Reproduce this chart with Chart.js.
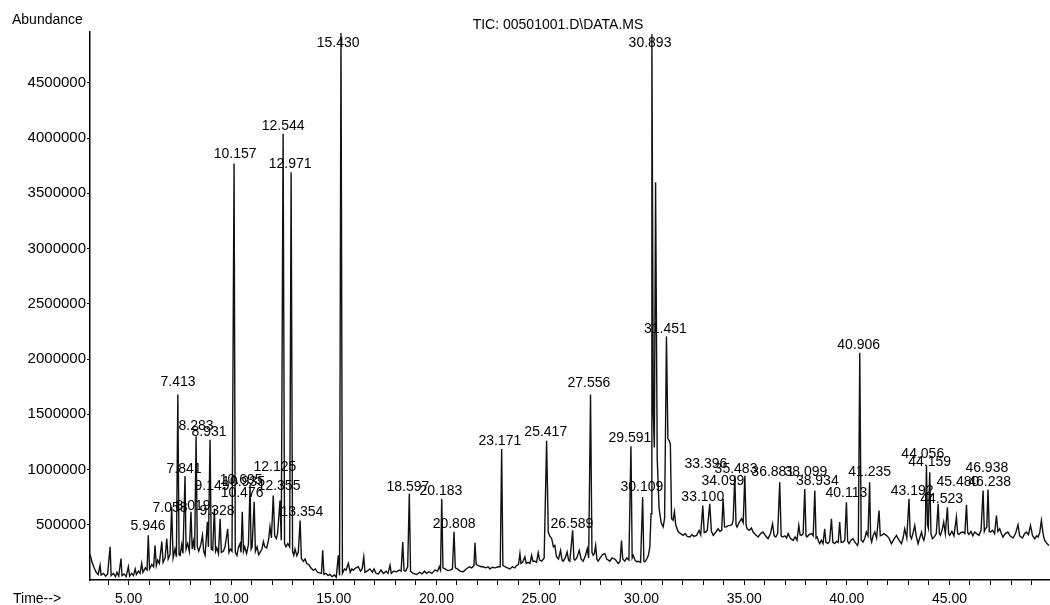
<!DOCTYPE html>
<html>
<head>
<meta charset="utf-8">
<script src="https://cdn.jsdelivr.net/npm/chart.js@4.4.1/dist/chart.umd.min.js"></script>
<style>
html,body{margin:0;padding:0;background:#fff;}
#wrap{width:1050px;height:605px;position:relative;}
</style>
</head>
<body>
<div id="wrap"><canvas id="c" width="1050" height="605"></canvas></div>
<script>
// ---- data ----
const chartTitle = "TIC: 00501001.D\\DATA.MS";
const yAxisTitle = "Abundance";
const xAxisTitle = "Time-->";

const retentionTimes = [
3.13,3.22,3.32,3.42,3.52,3.61,3.66,3.78,3.88,3.98,4.10,4.15,4.26,4.36,4.43,4.52,4.63,4.68,4.78,4.88,
4.99,5.05,5.15,5.24,5.32,5.38,5.48,5.56,5.64,5.70,5.82,5.90,5.96,6.02,6.13,6.22,6.29,6.35,6.42,6.50,
6.62,6.68,6.78,6.86,6.93,7.02,7.10,7.17,7.26,7.33,7.40,7.46,7.51,7.59,7.65,7.75,7.80,7.88,7.96,8.04,
8.10,8.16,8.22,8.29,8.35,8.42,8.52,8.60,8.66,8.73,8.84,8.89,8.97,9.03,9.10,9.18,9.24,9.30,9.38,9.46,
9.52,9.62,9.70,9.83,9.89,9.96,10.04,10.14,10.20,10.28,10.36,10.43,10.48,10.54,10.60,10.66,10.75,10.84,10.92,10.97,
11.02,11.12,11.18,11.26,11.34,11.41,11.50,11.57,11.64,11.73,11.82,11.89,11.96,12.05,12.12,12.20,12.26,12.38,12.44,12.53,
12.60,12.67,12.76,12.85,12.92,12.99,13.05,13.11,13.20,13.27,13.36,13.42,13.52,13.60,13.68,13.78,13.88,14.00,14.10,14.20,
14.30,14.40,14.46,14.52,14.62,14.72,14.81,14.92,15.03,15.12,15.22,15.28,15.35,15.42,15.52,15.60,15.71,15.80,15.88,15.95,
16.08,16.19,16.30,16.38,16.46,16.52,16.62,16.76,16.88,16.96,17.06,17.17,17.30,17.42,17.55,17.64,17.74,17.80,17.92,18.06,
18.18,18.28,18.36,18.42,18.50,18.60,18.68,18.74,18.86,19.04,19.18,19.30,19.42,19.52,19.64,19.78,19.93,20.06,20.14,20.20,
20.26,20.32,20.42,20.55,20.66,20.78,20.86,20.92,21.02,21.15,21.31,21.45,21.60,21.72,21.83,21.88,21.94,22.05,22.18,22.28,
22.40,22.52,22.61,22.72,22.86,23.01,23.11,23.18,23.24,23.34,23.46,23.58,23.70,23.82,23.91,24.00,24.07,24.12,24.20,24.31,
24.38,24.47,24.56,24.64,24.70,24.80,24.88,24.96,25.03,25.13,25.25,25.37,25.45,25.52,25.62,25.70,25.77,25.85,25.95,26.05,
26.12,26.18,26.28,26.37,26.44,26.50,26.64,26.70,26.75,26.84,26.96,27.05,27.15,27.26,27.35,27.42,27.51,27.58,27.64,27.70,
27.76,27.82,27.88,27.98,28.10,28.21,28.30,28.38,28.45,28.56,28.62,28.70,28.78,28.86,28.95,29.02,29.08,29.18,29.28,29.38,
29.48,29.54,29.59,29.68,29.75,29.83,29.95,30.05,30.11,30.16,30.25,30.33,30.40,30.46,30.50,30.57,30.62,30.68,30.76,30.85,
30.95,31.05,31.12,31.21,31.28,31.35,31.40,31.46,31.53,31.60,31.66,31.78,31.90,32.02,32.12,32.22,32.35,32.45,32.55,32.68,
32.80,32.88,32.98,33.05,33.13,33.20,33.32,33.40,33.49,33.60,33.73,33.82,33.90,33.97,34.04,34.10,34.20,34.30,34.40,34.46,
34.54,34.60,34.65,34.75,34.87,34.95,35.03,35.09,35.14,35.25,35.35,35.43,35.55,35.68,35.80,35.92,36.04,36.16,36.28,36.38,
36.46,36.54,36.63,36.73,36.80,36.87,36.98,37.06,37.14,37.24,37.38,37.48,37.57,37.66,37.72,37.79,37.87,37.95,38.01,38.06,
38.16,38.28,38.36,38.44,38.50,38.55,38.62,38.68,38.76,38.84,38.92,38.98,39.08,39.16,39.25,39.32,39.41,39.50,39.58,39.65,
39.72,39.82,39.90,39.98,40.04,40.11,40.20,40.30,40.40,40.52,40.56,40.63,40.70,40.79,40.88,40.95,41.03,41.11,41.16,41.21,
41.28,41.36,41.45,41.57,41.63,41.69,41.80,41.93,42.05,42.17,42.30,42.42,42.54,42.66,42.74,42.82,42.92,43.03,43.09,43.15,
43.22,43.31,43.38,43.47,43.55,43.64,43.70,43.75,43.82,43.88,43.93,43.97,44.04,44.10,44.17,44.26,44.36,44.45,44.51,44.56,
44.64,44.72,44.80,44.90,44.96,45.01,45.12,45.22,45.34,45.40,45.47,45.56,45.66,45.75,45.83,45.89,45.95,46.05,46.14,46.23,
46.32,46.44,46.54,46.64,46.70,46.75,46.82,46.88,46.94,47.00,47.10,47.20,47.29,47.36,47.45,47.53,47.61,47.72,47.85,47.95,
48.10,48.22,48.34,48.42,48.56,48.66,48.75,48.85,48.95,49.05,49.16,49.25,49.32,49.40,49.48,49.56,49.64,49.75,49.85
];

const abundance = [
230000,160000,110000,70000,50000,133000,45000,60000,35000,55000,300000,40000,60000,30000,70000,35000,194000,40000,55000,30000,
120000,35000,60000,40000,100000,50000,80000,60000,150000,70000,110000,90000,404000,100000,140000,120000,313000,130000,180000,150000,
347000,160000,200000,374000,190000,230000,662000,200000,280000,210000,1680000,230000,223000,320000,240000,941000,280000,330000,260000,617000,
280000,350000,270000,1300000,300000,260000,320000,404000,260000,223000,527000,300000,1270000,280000,270000,644000,260000,290000,240000,554000,
250000,260000,300000,464000,250000,280000,260000,3770000,250000,223000,300000,329000,250000,617000,260000,300000,240000,320000,860000,280000,
300000,707000,260000,300000,230000,250000,280000,347000,300000,290000,360000,482000,380000,764000,400000,374000,420000,719000,360000,4040000,
330000,302000,330000,300000,3690000,260000,223000,280000,220000,250000,539000,194000,170000,190000,149000,140000,110000,88000,100000,70000,
65000,60000,268000,50000,60000,40000,50000,30000,45000,25000,223000,40000,4950000,60000,100000,90000,150000,70000,100000,88000,
110000,120000,80000,100000,209000,70000,80000,100000,70000,100000,60000,55000,90000,60000,80000,60000,133000,60000,80000,75000,
90000,80000,344000,85000,80000,120000,780000,80000,60000,50000,70000,55000,80000,60000,75000,60000,90000,80000,120000,90000,
734000,110000,100000,85000,90000,100000,437000,110000,100000,80000,75000,100000,120000,110000,130000,338000,140000,130000,120000,120000,
110000,120000,100000,115000,110000,120000,120000,1185000,130000,120000,110000,100000,120000,110000,133000,140000,239000,150000,160000,209000,
150000,160000,150000,223000,170000,170000,160000,248000,180000,170000,200000,1260000,434000,400000,374000,300000,313000,210000,190000,268000,
180000,170000,200000,254000,180000,170000,449000,190000,180000,200000,268000,190000,170000,220000,284000,200000,1680000,250000,223000,240000,
313000,190000,170000,200000,230000,239000,190000,180000,170000,200000,194000,190000,170000,149000,170000,358000,190000,170000,200000,180000,
1210000,200000,223000,180000,165000,170000,160000,752000,170000,164000,190000,223000,300000,600000,4940000,1500000,1200000,3600000,1100000,650000,
520000,480000,560000,2205000,1280000,1260000,1230000,554000,540000,617000,500000,437000,420000,404000,420000,395000,389000,410000,395000,404000,
449000,410000,674000,430000,434000,450000,689000,440000,404000,430000,464000,440000,450000,734000,480000,479000,490000,494000,500000,540000,
944000,500000,479000,520000,554000,520000,944000,500000,464000,450000,470000,434000,410000,389000,420000,434000,400000,374000,420000,509000,
400000,389000,420000,885000,400000,389000,400000,380000,420000,380000,359000,390000,360000,494000,410000,404000,420000,824000,400000,389000,
410000,420000,400000,809000,380000,389000,350000,329000,360000,330000,464000,340000,329000,350000,554000,340000,329000,350000,340000,524000,
340000,344000,360000,704000,350000,329000,360000,374000,340000,313000,340000,2056000,360000,344000,380000,434000,400000,885000,380000,344000,
400000,434000,380000,629000,400000,404000,420000,404000,380000,329000,370000,404000,360000,329000,380000,464000,380000,734000,400000,374000,
420000,494000,400000,329000,380000,434000,380000,359000,420000,1034000,500000,470000,975000,420000,374000,390000,420000,689000,420000,404000,
450000,524000,420000,659000,420000,404000,440000,400000,569000,420000,413000,430000,434000,420000,680000,430000,413000,440000,400000,434000,
420000,404000,450000,809000,440000,464000,480000,818000,440000,434000,450000,420000,584000,440000,464000,420000,389000,420000,434000,400000,
380000,420000,500000,400000,380000,420000,434000,410000,494000,400000,374000,400000,389000,430000,539000,420000,359000,330000,313000
];

// peak annotations: text and where the text sits (time, abundance)
const peakLabels = ["5.946","7.058","7.413","7.841","8.019","8.283","8.931","9.149","9.328","10.157",
  "10.476","10.695","10.935","12.125","12.355","12.544","12.971","13.354","15.430","18.597",
  "20.183","20.808","23.171","25.417","26.589","27.556","29.591","30.109","30.893","31.451",
  "33.100","33.396","34.099","35.483","36.881","38.099","38.934","40.113","40.906","41.235",
  "43.192","44.056","44.159","44.523","45.480","46.238","46.938"];
const labelTimes = [5.95,7.02,7.41,7.70,8.14,8.29,8.92,9.07,9.31,10.19,
  10.53,10.49,10.60,12.13,12.33,12.53,12.87,13.45,15.21,18.61,
  20.22,20.86,23.09,25.33,26.60,27.43,29.43,30.01,30.41,31.16,
  32.98,33.13,33.96,34.60,36.39,38.01,38.56,39.98,40.58,41.11,
  43.18,43.70,44.04,44.62,45.41,46.96,46.82];
const labelAbund = [491000,653000,1788000,1005000,671000,1392000,1338000,851000,626000,3851000,
  788000,905000,888000,1023000,851000,4112000,3761000,617000,4860000,842000,
  806000,509000,1257000,1338000,509000,1779000,1288000,842000,4860000,2275000,
  752000,1050000,896000,1005000,977000,977000,896000,788000,2130000,977000,
  806000,1140000,1068000,734000,887000,887000,1014000];

const xMinorTicks = [4,5,6,7,8,9,10,11,12,13,14,15,16,17,18,19,20,21,22,23,24,25,26,27,28,29,30,31,32,33,34,35,36,37,38,39,40,41,42,43,44,45,46,47,48,49];
const xLabelTicks = [5,10,15,20,25,30,35,40,45];
const yTicks = [500000,1000000,1500000,2000000,2500000,3000000,3500000,4000000,4500000];

const FONT = '"Liberation Sans", Arial, sans-serif';

const points = retentionTimes.map((t, i) => ({x: t, y: abundance[i]}));

const annotate = {
  id: 'annotate',
  afterDatasetsDraw(chart) {
    const ctx = chart.ctx;
    const xs = chart.scales.x, ys = chart.scales.y;
    ctx.save();
    ctx.fillStyle = '#000';
    ctx.font = '14px ' + FONT;
    ctx.textAlign = 'center';
    ctx.textBaseline = 'middle';
    peakLabels.forEach((txt, i) => {
      ctx.fillText(txt, xs.getPixelForValue(labelTimes[i]), ys.getPixelForValue(labelAbund[i]));
    });
    ctx.restore();
  },
  afterDraw(chart) {
    const ctx = chart.ctx;
    ctx.save();
    ctx.fillStyle = '#000';
    ctx.textBaseline = 'middle';
    ctx.font = '14px ' + FONT;
    ctx.textAlign = 'left';
    ctx.fillText(yAxisTitle, 12, 20);
    ctx.fillText(xAxisTitle, 13, 599);
    ctx.textAlign = 'center';
    ctx.fillText(chartTitle, 558, 25);
    ctx.restore();
  }
};

new Chart(document.getElementById('c'), {
  type: 'line',
  data: {
    datasets: [{
      data: points,
      borderColor: '#111',
      borderWidth: 1.4,
      pointRadius: 0,
      tension: 0,
      fill: false
    }]
  },
  options: {
    responsive: false,
    animation: false,
    layout: {padding: {top: 32, left: 0, right: 0, bottom: 0}},
    plugins: {legend: {display: false}, tooltip: {enabled: false}, title: {display: false}},
    scales: {
      x: {
        type: 'linear',
        min: 3.12,
        max: 49.9,
        border: {color: '#000', width: 1.5},
        grid: {display: true, drawOnChartArea: false, drawTicks: true, tickLength: 5, color: '#000', lineWidth: 1},
        afterBuildTicks(axis) { axis.ticks = xMinorTicks.map(v => ({value: v})); },
        afterFit(axis) { axis.height = 25; },
        ticks: {
          autoSkip: false,
          maxRotation: 0,
          padding: 6,
          color: '#000',
          font: {family: FONT, size: 14},
          callback: v => xLabelTicks.includes(v) ? v.toFixed(2) : ''
        }
      },
      y: {
        min: 0,
        max: 4960000,
        border: {color: '#000', width: 1.5},
        grid: {display: true, drawOnChartArea: false, drawTicks: true, tickLength: 3, color: '#000', lineWidth: 1},
        afterBuildTicks(axis) { axis.ticks = yTicks.map(v => ({value: v})); },
        afterFit(axis) { axis.width = 90; },
        ticks: {
          padding: 1,
          color: '#000',
          font: {family: FONT, size: 15},
          callback: v => String(v)
        }
      }
    }
  },
  plugins: [annotate]
});
</script>
</body>
</html>
